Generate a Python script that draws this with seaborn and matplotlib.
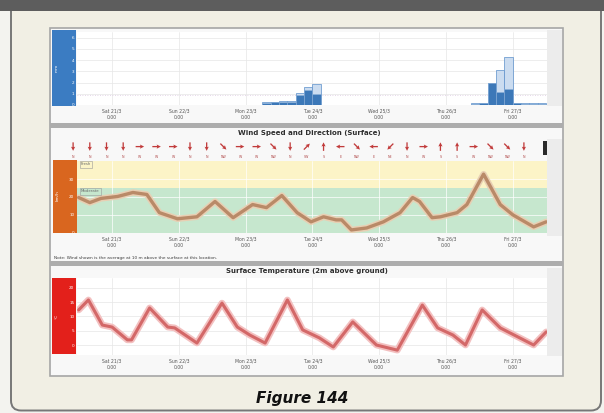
import numpy as np
import matplotlib
matplotlib.use("Agg")
import matplotlib.pyplot as plt
from matplotlib.patches import Rectangle, FancyBboxPatch
import seaborn as sns

# ---------------------------------------------------------------- data
# hours are counted from Sat 21/3 0:00
day_hours = [0, 24, 48, 72, 96, 120, 144]
day_labels = ["Sat 21/3\n0:00", "Sun 22/3\n0:00", "Mon 23/3\n0:00",
              "Tue 24/3\n0:00", "Wed 25/3\n0:00", "Thu 26/3\n0:00",
              "Fri 27/3\n0:00"]

rain_hours = [54, 57, 60, 63, 66, 69, 72, 129, 132, 135, 138, 141, 144, 147, 150, 153]
rain_mm = [0.2, 0.25, 0.25, 0.3, 0.9, 1.3, 1.0, 0.1, 0.15, 2.0, 1.2, 1.4, 0.15, 0.1, 0.1, 0.1]
rain_upper_mm = [0.25, 0.3, 0.35, 0.4, 1.1, 1.6, 1.9, 0.15, 0.2, 2.0, 3.1, 4.3, 0.2, 0.15, 0.15, 0.15]

wind_hours = [-12, -8, -4, 2, 7.5, 12.5, 17, 23.5, 30.5, 37, 43.5, 50.5, 55.5, 61,
              66.5, 71.5, 76, 80.5, 82.5, 86, 91.5, 97.5, 103.5, 108, 110.5, 115,
              118, 124, 127.5, 133.5, 139.5, 144, 151.5, 156]
wind_kmh = [19.7, 16.9, 19.2, 20.3, 22.5, 21.4, 11.3, 7.9, 9.0, 17.5, 8.5, 15.8, 14.1, 20.8,
            11.3, 6.2, 9.0, 7.3, 7.3, 1.7, 2.8, 6.2, 11.3, 19.7, 17.5, 8.5,
            9.0, 11.3, 15.8, 32.7, 15.8, 10.1, 3.4, 6.2]

arrow_hours = [-14, -8, -2, 4, 10, 16, 22, 28, 34, 40, 46, 52, 58, 64,
               70, 76, 82, 88, 94, 100, 106, 112, 118, 124, 130, 136, 142, 148]
arrow_dir_deg = [-90, -90, -90, -90, 0, 0, 0, -90, -90, -45, 0, 0, -45, -90,
                 45, 90, 180, -45, 180, 225, -90, 0, 90, 90, 0, -45, -45, -90]

temp_hours = [-12, -8.5, -3.5, 0, 5.5, 7, 13.5, 20, 22.5, 30.5, 39.5, 45, 49.5, 55,
              63, 68.5, 74.5, 79.5, 86.5, 95, 102.5, 111.5, 117, 122.5, 127,
              133, 139.5, 151.5, 156]
temp_c = [12.3, 15.8, 7.0, 6.3, 1.8, 1.8, 13.0, 6.3, 6.0, 0.7, 14.7, 6.3, 3.5, 0.7,
          15.8, 5.3, 2.5, -0.7, 8.1, 0.0, -1.8, 14.0, 6.0, 3.5, 0.0,
          12.3, 6.0, 0.0, 4.6]

# ---------------------------------------------------------------- figure
sns.set_theme(style="white")
plt.rcParams["font.family"] = ["DejaVu Sans"]

W, H = 604, 413
fig = plt.figure(figsize=(W / 100, H / 100), dpi=100)
fig.patch.set_facecolor("#f3f3ef")


def px_axes(x0, y0, x1, y1, **kw):
    return fig.add_axes([x0 / W, 1 - y1 / H, (x1 - x0) / W, (y1 - y0) / H], **kw)


base = px_axes(0, 0, W, H)
base.set_xlim(0, W)
base.set_ylim(H, 0)
base.axis("off")

# framed card with a dark header strip
base.add_patch(FancyBboxPatch((11, -20), 590, 430.5,
                              boxstyle="round,pad=0,rounding_size=10",
                              facecolor="#f1efe4", edgecolor="#777777", lw=1.4))
base.add_patch(Rectangle((0, 0), W, 11, facecolor="#5d5d5d", edgecolor="none"))

# dashboard panel
base.add_patch(Rectangle((50, 28), 513, 348, facecolor="#f8f8f8",
                         edgecolor="#a6a6a6", lw=1.2))
for y0 in (123, 261):
    base.add_patch(Rectangle((50, y0), 513, 4.5, facecolor="#adadad", edgecolor="none"))
for y0, y1 in ((30, 106), (139, 236), (268, 356)):
    base.add_patch(Rectangle((547, y0), 15, y1 - y0, facecolor="#ececec", edgecolor="none"))

# coloured axis blocks
base.add_patch(Rectangle((52, 30), 24, 76, facecolor="#3b7cc2", edgecolor="none"))
base.add_patch(Rectangle((53, 160), 24, 73, facecolor="#d9661f", edgecolor="none"))
base.add_patch(Rectangle((52, 278), 24, 76, facecolor="#e3201b", edgecolor="none"))
base.text(57, 68, "mm", rotation=90, color="white", fontsize=3.2, ha="center", va="center")
base.text(58, 196, "km/h", rotation=90, color="white", fontsize=3.2, ha="center", va="center")
base.text(57, 316, "°C", rotation=90, color="white", fontsize=3.2, ha="center", va="center")

# titles, note, caption
base.text(308, 36, "Precipitation", fontsize=4, color="#e2e2e2", ha="center", va="center")
base.text(309, 133, "Wind Speed and Direction (Surface)", fontsize=5, weight="bold",
          color="#2e2e2e", ha="center", va="center")
base.text(307, 271, "Surface Temperature (2m above ground)", fontsize=5, weight="bold",
          color="#2e2e2e", ha="center", va="center")
base.text(54, 257.5, "Note: Wind shown is the average at 10 m above the surface at this location.",
          fontsize=3.1, color="#3a3a3a", ha="left", va="center")
base.add_patch(Rectangle((543, 141), 4, 14, facecolor="#2a2a2a", edgecolor="none"))
base.text(302, 398, "Figure 144", fontsize=11, weight="bold", style="italic",
          color="#111111", ha="center", va="center")

XLIM = (-12.6, 156.3)


def style_time_axis(ax, grid_color="#e3e3e3"):
    ax.set_xlim(*XLIM)
    ax.set_xticks(day_hours)
    ax.set_xticklabels(day_labels, fontsize=3.3, color="#555555", linespacing=1.5)
    ax.tick_params(axis="x", length=0, pad=2.5)
    ax.tick_params(axis="y", length=0, pad=2, labelsize=3, labelcolor="white")
    for s in ax.spines.values():
        s.set_visible(False)
    ax.grid(True, color=grid_color, lw=0.5)
    ax.set_axisbelow(True)
    ax.set_xlabel("")
    ax.set_ylabel("")


# ---------------------------------------------------------------- precipitation
ax_r = px_axes(77, 32, 547, 105)
ax_r.set_facecolor("white")
ax_r.bar(rain_hours, rain_upper_mm, width=3, align="edge", color="#cbdcf0",
         edgecolor="#5b8fca", lw=0.5, zorder=2)
ax_r.bar(rain_hours, rain_mm, width=3, align="edge", color="#3c78b8",
         edgecolor="#8fb2da", lw=0.4, zorder=3)
ax_r.axhline(0.9, color="#dcc9e2", lw=0.6, ls=(0, (1, 2)), zorder=1)
ax_r.set_ylim(0, 6.5)
ax_r.set_yticks([0, 1, 2, 3, 4, 5, 6])
style_time_axis(ax_r, "#e6e6e6")

# ---------------------------------------------------------------- wind arrows
ax_a = px_axes(77, 139, 547, 159)
ax_a.set_xlim(*XLIM)
ax_a.set_ylim(0, 1)
ax_a.axis("off")
ang = np.deg2rad(np.array(arrow_dir_deg, dtype=float))
ax_a.quiver(arrow_hours, np.full(len(arrow_hours), 0.62), np.cos(ang), np.sin(ang),
            units="dots", scale_units="dots", scale=1 / 8.5, width=1.3,
            headwidth=3.2, headlength=3.2, headaxislength=2.8, pivot="middle",
            color="#c13b3b", clip_on=False)
compass = ["N", "NE", "E", "SE", "S", "SW", "W", "NW"]
for h, d in zip(arrow_hours, arrow_dir_deg):
    bearing_from = (90 - (d + 180)) % 360
    ax_a.text(h, 0.08, compass[int(((bearing_from + 22.5) % 360) // 45)],
              fontsize=2.3, color="#b04848", ha="center", va="center", clip_on=False)

# ---------------------------------------------------------------- wind speed
ax_w = px_axes(77, 161, 547, 233)
ax_w.axhspan(0, 25, color="#c6e7ce", lw=0, zorder=0)
ax_w.axhspan(25, 40, color="#fcf4c7", lw=0, zorder=0)
sns.lineplot(x=wind_hours, y=wind_kmh, ax=ax_w, color="#e8cfb3", lw=4.6, zorder=3)
sns.lineplot(x=wind_hours, y=wind_kmh, ax=ax_w, color="#b98a68", lw=2.4, zorder=4)
ax_w.set_ylim(0, 40)
ax_w.set_yticks([0, 10, 20, 30])
box = dict(boxstyle="square,pad=0.3", facecolor="none", edgecolor="#9a9a9a", lw=0.4)
ax_w.text(-11.2, 39.2, "Fresh", fontsize=2.8, color="#6a6a6a", va="top", ha="left", bbox=box, zorder=5)
ax_w.text(-11.2, 24.2, "Moderate", fontsize=2.8, color="#6a6a6a", va="top", ha="left", bbox=box, zorder=5)
style_time_axis(ax_w, "#ffffff80")

# ---------------------------------------------------------------- temperature
ax_t = px_axes(77, 278, 547, 355)
ax_t.set_facecolor("white")
sns.lineplot(x=temp_hours, y=temp_c, ax=ax_t, color="#f3c0c0", lw=4.8, zorder=3)
sns.lineplot(x=temp_hours, y=temp_c, ax=ax_t, color="#d36868", lw=2.2, zorder=4)
ax_t.set_ylim(-3.5, 23.5)
ax_t.set_yticks([0, 5, 10, 15, 20])
style_time_axis(ax_t, "#e6e6e6")

fig.savefig("out.png", dpi=100, facecolor=fig.get_facecolor())
